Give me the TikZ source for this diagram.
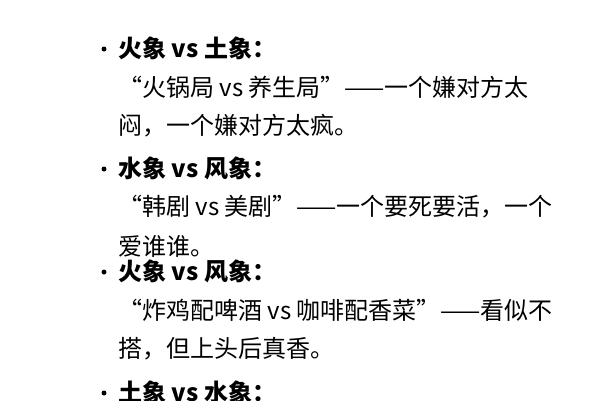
\documentclass[tikz,border=0pt]{standalone}
\usepackage{fontspec}
\setmainfont{Noto Sans CJK SC}
\usetikzlibrary{positioning}

\begin{document}
\begin{tikzpicture}[
        x=1pt, y=-1pt,
        line/.style={anchor=west, inner sep=0pt, font=\fontsize{24}{28}\selectfont},
        head/.style={line, font=\fontsize{24}{28}\selectfont\bfseries},
        dot/.style={circle, fill=black, inner sep=0pt, minimum size=5pt}
      ]
      \useasboundingbox[fill=white] (0,0) rectangle (600,400);

      % first pair
      \node[dot] (d1) at (104,49) {};
      \node[head] (h1) at (118,48) {火象 vs 土象：};
      \node[line] (a1) at (118,87) {“火锅局 vs 养生局”——一个嫌对方太};
      \node[line] (b1) at (118,126) {闷，一个嫌对方太疯。};

      % second pair
      \node[dot] (d2) at (104,169) {};
      \node[head] (h2) at (118,168) {水象 vs 风象：};
      \node[line] (a2) at (118,207) {“韩剧 vs 美剧”——一个要死要活，一个};
      \node[line] (b2) at (118,246) {爱谁谁。};

      % third pair
      \node[dot] (d3) at (104,272) {};
      \node[head] (h3) at (118,271) {火象 vs 风象：};
      \node[line] (a3) at (118,310) {“炸鸡配啤酒 vs 咖啡配香菜”——看似不};
      \node[line] (b3) at (118,349) {搭，但上头后真香。};

      % fourth pair
      \node[dot] (d4) at (104,393) {};
      \node[head] (h4) at (118,392) {土象 vs 水象：};
    \end{tikzpicture}
\end{document}
